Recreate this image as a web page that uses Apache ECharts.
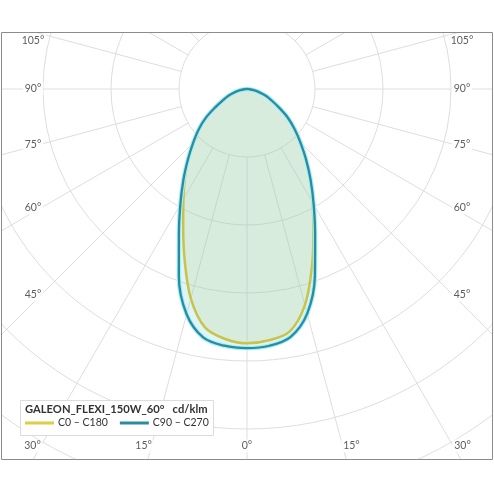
<!DOCTYPE html>
<html>
<head>
<meta charset="utf-8">
<script src="https://cdn.jsdelivr.net/npm/echarts@6/dist/echarts.min.js"></script>
<style>html,body{margin:0;padding:0;background:#fff}#c{width:494px;height:494px}</style>
</head>
<body>
<div id="c"></div>
<script>
// ---- data (cd/klm) ----
const gammaDeg = [0,5,10,15,20,25,30,35,40,45,50,55,60,65,70,75,80,85,90];
const c0Left   = [374,369,356,319,268,222,187,159,134,112,93,74,53,38,28,18,9,3,0];
const c0Right  = [374,371,362,329,279,231,193,162,134,112,93,74,53,38,28,18,9,3,0];
const c90Left  = [381,379,371,343,293,237,196,163,135,112,93,74,54,39,29,19,10,3,0];
const c90Right = [381,379,370,342,292,237,196,163,135,111,91,73,54,40,30,19,10,3,0];
const sideLabelAngles = [105,90,75,60,45];
const bottomLabelAngles = [30,15,0];
const seriesNames = ['C0 – C180','C90 – C270'];
const chartTitle = 'GALEON_FLEXI_150W_60°   cd/klm';

// ---- layout ----
const CX = 247, CY = 89;
const OUTER = 680, RMAX = 1000;
const pxPerUnit = OUTER / RMAX;
const FONT = 'Lato, "Noto Sans", sans-serif';

function curve(left, right){
  const pts = [];
  for (let i = gammaDeg.length - 1; i >= 0; i--) pts.push([left[i], gammaDeg[i]]);
  for (let i = 1; i < gammaDeg.length; i++) pts.push([right[i], 360 - gammaDeg[i]]);
  return pts;
}

function pixToPolar(x, y){
  const dx = x - CX, dy = y - CY;
  const r = Math.hypot(dx, dy) / pxPerUnit;
  let a = Math.atan2(-dx, dy) * 180 / Math.PI; // clockwise from down
  if (a < 0) a += 360;
  return [r, a];
}

const labelData = [];
const rad = d => d * Math.PI / 180;
sideLabelAngles.forEach(g => {
  let dy = 206 / Math.tan(rad(g));
  dy = Math.max(dy, -48);
  const y = CY + dy;
  labelData.push({name: g + '°', value: pixToPolar(33, y)});
  labelData.push({name: g + '°', value: pixToPolar(462, y)});
});
bottomLabelAngles.forEach(g => {
  let dx = Math.min(386 * Math.tan(rad(g)), 214.5);
  const y = 446;
  labelData.push({name: g + '°', value: pixToPolar(CX - dx, y)});
  if (g !== 0) labelData.push({name: g + '°', value: pixToPolar(CX + dx + 1, y)});
});

const YEL = '#dccf45', BLUE = '#2a8ca1';

const chart = echarts.init(document.getElementById('c'), null, {renderer:'canvas'});
chart.setOption({
  animation: false,
  backgroundColor: '#fff',
  polar: [
    {center:[CX, CY], radius:[68, OUTER]},
    {center:[CX, CY], radius:[0, OUTER]}
  ],
  angleAxis: [
    {polarIndex:0, type:'value', min:0, max:360, interval:15, startAngle:270, clockwise:true,
     axisLine:{show:false}, axisTick:{show:false}, axisLabel:{show:false},
     splitLine:{show:true, lineStyle:{color:'#dedede', width:1}}},
    {polarIndex:1, type:'value', min:0, max:360, startAngle:270, clockwise:true, show:false,
     axisLine:{show:false}, axisTick:{show:false}, axisLabel:{show:false}, splitLine:{show:false}}
  ],
  radiusAxis: [
    {polarIndex:0, type:'value', min:0, max:900, interval:100,
     axisLine:{show:false}, axisTick:{show:false}, axisLabel:{show:false},
     splitLine:{show:true, lineStyle:{color:'#dedede', width:1}}},
    {polarIndex:1, type:'value', min:0, max:RMAX, show:false,
     axisLine:{show:false}, axisTick:{show:false}, axisLabel:{show:false}, splitLine:{show:false}}
  ],
  title: {
    text: chartTitle, left: 25, top: 404, padding: 0,
    textStyle: {fontFamily: FONT, fontSize: 11.2, fontWeight: 'bold', color: '#333'}
  },
  legend: {
    left: 25, top: 417.5, padding: 0, itemWidth: 29, itemHeight: 3, itemGap: 12,
    data: [{name: seriesNames[0], icon: 'rect'}, {name: seriesNames[1], icon: 'rect'}],
    textStyle: {fontFamily: FONT, fontSize: 10.5, color: '#333', padding:[0,0,0,-1]},
    selectedMode: false
  },
  series: [
    {name:'c90fill', type:'line', coordinateSystem:'polar', polarIndex:1, data: curve(c90Left, c90Right),
     showSymbol:false, smooth:0.35, lineStyle:{width:0, opacity:0},
     areaStyle:{color:'rgba(120,215,225,0.35)'}, z:1, silent:true},
    {name:seriesNames[0], type:'line', coordinateSystem:'polar', polarIndex:1, data: curve(c0Left, c0Right),
     showSymbol:false, smooth:0.35, itemStyle:{color:YEL},
     lineStyle:{color:'#c9c34a', width:2.5},
     areaStyle:{color:'rgba(195,204,128,0.3)'}, z:2},
    {name:'c90halo', type:'line', coordinateSystem:'polar', polarIndex:1, data: curve(c90Left, c90Right),
     showSymbol:false, smooth:0.35, lineStyle:{color:'#aaeef4', width:4.5}, z:3, silent:true},
    {name:seriesNames[1], type:'line', coordinateSystem:'polar', polarIndex:1, data: curve(c90Left, c90Right),
     showSymbol:false, smooth:0.35, itemStyle:{color:BLUE},
     lineStyle:{color:BLUE, width:2.3}, z:4},
    {name:'angleLabels', type:'scatter', coordinateSystem:'polar', polarIndex:1, data: labelData,
     symbolSize:0, silent:true, z:20,
     label:{show:true, position:'inside', formatter: p => p.name,
       fontFamily: FONT, fontSize: 10.5, color:'#333', backgroundColor:'#fff', padding:[1,2]}}
  ],
  graphic: [
    {type:'rect', z:100, shape:{x:0, y:0, width:494, height:32}, style:{fill:'#fff'}},
    {type:'rect', z:100, shape:{x:0, y:460, width:494, height:34}, style:{fill:'#fff'}},
    {type:'rect', z:100, shape:{x:0, y:0, width:1, height:494}, style:{fill:'#fff'}},
    {type:'rect', z:100, shape:{x:493, y:0, width:1, height:494}, style:{fill:'#fff'}},
    {type:'rect', z:101, shape:{x:1.5, y:32.5, width:491, height:427}, style:{fill:null, stroke:'#8c8c8c', lineWidth:1}},
    {type:'rect', z:3, shape:{x:20.5, y:400.5, width:193, height:35}, style:{fill:'#fff', stroke:'#dcdcdc', lineWidth:1}}
  ]
});
</script>
</body>
</html>
